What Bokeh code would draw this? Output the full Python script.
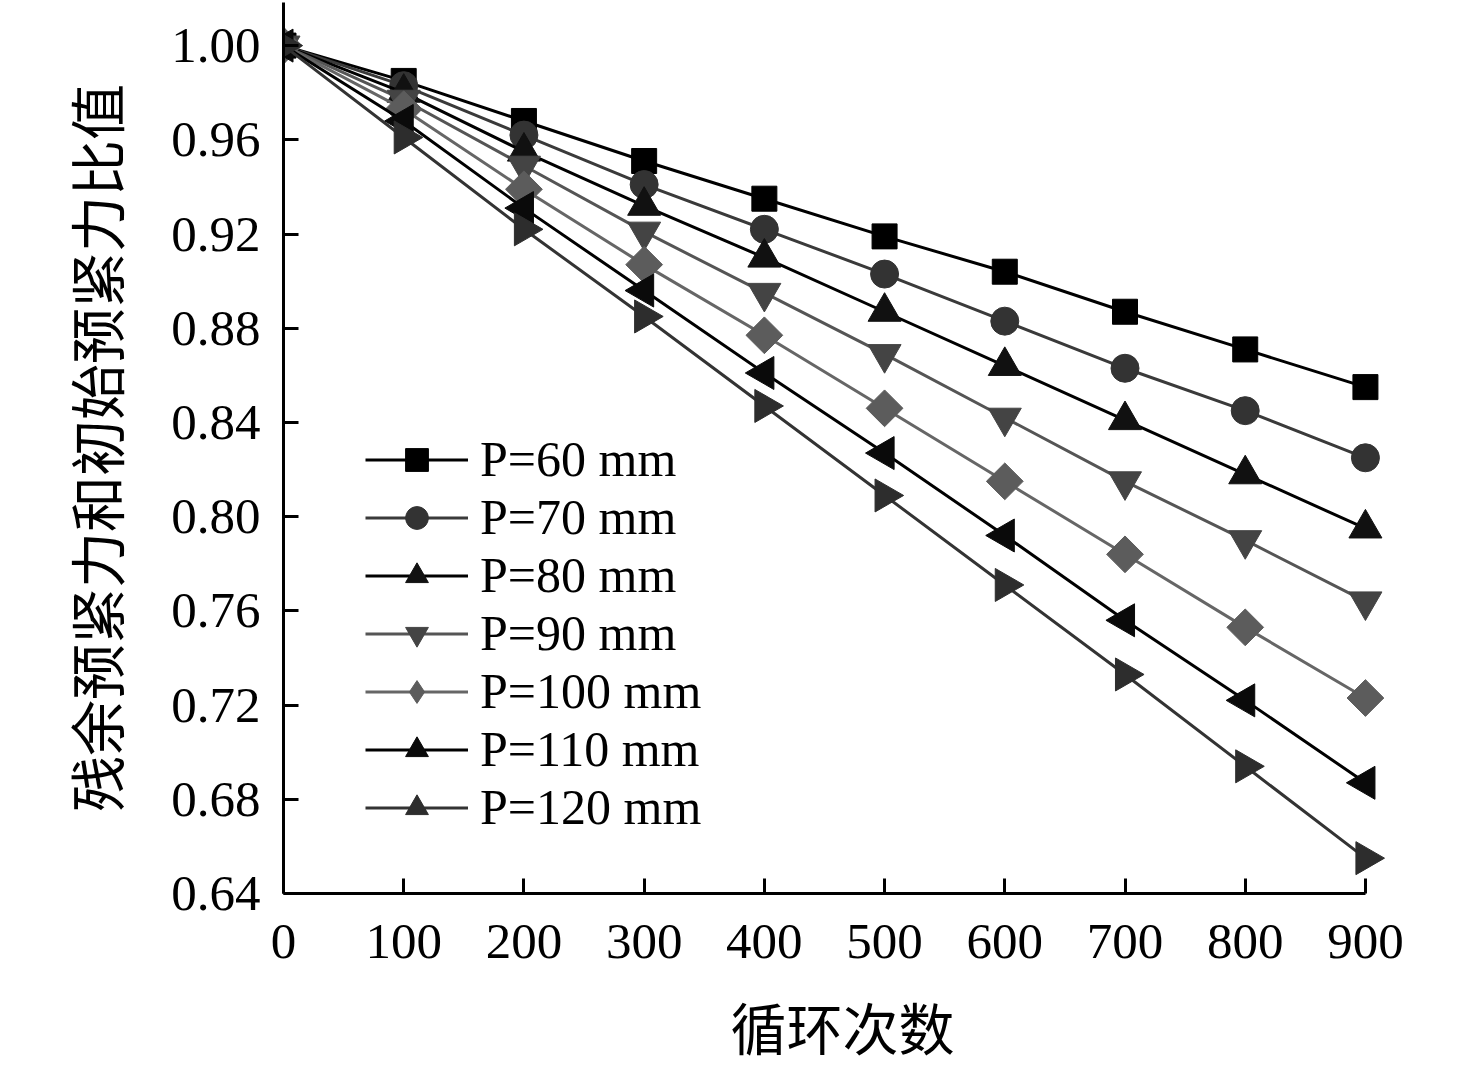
import math
from bokeh.plotting import figure
from bokeh.models import (Range1d, FixedTicker, Legend, LegendItem, NumeralTickFormatter,
                          ColumnDataSource)
from bokeh.embed import file_html
from bokeh.resources import INLINE

cycles = [0, 100, 200, 300, 400, 500, 600, 700, 800, 900]
labels = ["P=60 mm", "P=70 mm", "P=80 mm", "P=90 mm", "P=100 mm", "P=110 mm", "P=120 mm"]
p60 = [1.000, 0.985, 0.968, 0.951, 0.935, 0.919, 0.904, 0.887, 0.871, 0.855]
p70 = [1.000, 0.983, 0.962, 0.941, 0.922, 0.903, 0.883, 0.863, 0.845, 0.825]
p80 = [1.000, 0.980, 0.955, 0.932, 0.910, 0.887, 0.864, 0.841, 0.818, 0.795]
p90 = [1.000, 0.977, 0.949, 0.921, 0.895, 0.869, 0.842, 0.815, 0.790, 0.764]
p100 = [1.000, 0.973, 0.939, 0.907, 0.877, 0.846, 0.815, 0.784, 0.753, 0.723]
p110 = [1.000, 0.968, 0.931, 0.896, 0.861, 0.827, 0.792, 0.756, 0.722, 0.687]
p120 = [1.000, 0.961, 0.922, 0.885, 0.847, 0.809, 0.771, 0.733, 0.694, 0.655]
y_ticks = [0.64, 0.68, 0.72, 0.76, 0.80, 0.84, 0.88, 0.92, 0.96, 1.00]
x_ticks = [0, 100, 200, 300, 400, 500, 600, 700, 800, 900]

series = [p60, p70, p80, p90, p100, p110, p120]
line_colors = ["#000000", "#3a3a3a", "#000000", "#555555", "#666666", "#000000", "#333333"]
fill_colors = ["#000000", "#333333", "#111111", "#444444", "#5c5c5c", "#0a0a0a", "#2d2d2d"]
markers = ["square", "circle", "triangle", "inverted_triangle", "square", "triangle", "triangle"]
legend_markers = ["square", "circle", "triangle", "inverted_triangle", "diamond", "triangle", "triangle"]
sizes = [25, 28, 33, 33, 26, 33, 33]
angles = [0, 0, 0, 0, math.pi / 4, math.pi / 2, -math.pi / 2]

SERIF = "Liberation Serif"
CJK = "Noto Sans CJK SC"

p = figure(width=1470, height=1068, output_backend="svg", toolbar_location=None,
           x_range=Range1d(0, 930), y_range=Range1d(0.64, 1.0183),
           min_border_left=283, min_border_right=69, min_border_top=2, min_border_bottom=175)
p.outline_line_color = None
p.xgrid.visible = False
p.ygrid.visible = False
p.background_fill_color = "white"

items = []
for ys, lab, lc, fc, mk, lmk, sz, ang in zip(series, labels, line_colors, fill_colors,
                                             markers, legend_markers, sizes, angles):
    src = ColumnDataSource(dict(x=cycles, y=ys))
    l = p.line("x", "y", source=src, line_color=lc, line_width=3)
    s_leg = None
    if lmk != mk:
        # same-colour marker hidden beneath the rotated one; used for the legend glyph
        s_leg = p.scatter("x", "y", source=src, marker=lmk, size=sz,
                          fill_color=fc, line_color=fc, line_width=1)
    s = p.scatter("x", "y", source=src, marker=mk, size=sz, angle=ang,
                  fill_color=fc, line_color=fc, line_width=1)
    items.append(LegendItem(label=lab, renderers=[l, s_leg if s_leg is not None else s]))

legend = Legend(items=items, location=(82, 57), padding=0, margin=0, spacing=0,
                glyph_width=103, glyph_height=57, label_height=50, label_standoff=12,
                label_text_font=SERIF, label_text_font_size="50px", label_text_color="black",
                background_fill_alpha=0, border_line_color=None)
p.add_layout(legend)

for ax in (p.xaxis[0], p.yaxis[0]):
    ax.axis_line_width = 3
    ax.axis_line_color = "black"
    ax.major_tick_line_width = 3
    ax.major_tick_line_color = "black"
    ax.major_tick_in = 15
    ax.major_tick_out = 0
    ax.minor_tick_line_color = None
    ax.major_label_text_font = SERIF
    ax.major_label_text_font_size = "51px"
    ax.major_label_text_color = "black"
    ax.axis_label_text_font = CJK
    ax.axis_label_text_font_size = "56px"
    ax.axis_label_text_font_style = "normal"
    ax.axis_label_text_color = "black"

p.xaxis.ticker = FixedTicker(ticks=x_ticks)
p.xaxis.bounds = (0, 900)
p.xaxis.major_label_standoff = 31
p.xaxis.axis_label = "循环次数"
p.xaxis.axis_label_standoff = 24

p.yaxis.ticker = FixedTicker(ticks=y_ticks)
p.yaxis.formatter = NumeralTickFormatter(format="0.00")
p.yaxis.major_label_standoff = 23
p.yaxis.axis_label = "残余预紧力和初始预紧力比值"
p.yaxis.axis_label_standoff = 33

open("out.html", "w").write(file_html(p, INLINE))
